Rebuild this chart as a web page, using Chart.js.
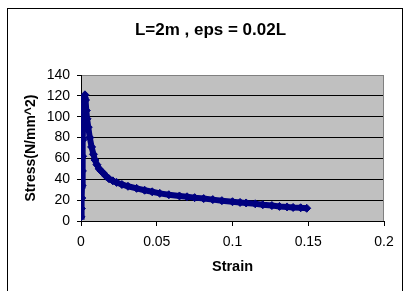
<!DOCTYPE html>
<html>
<head>
<meta charset="utf-8">
<script src="https://cdn.jsdelivr.net/npm/chart.js@4"></script>
<style>
    html, body { margin: 0; padding: 0; background: #fff; overflow: hidden; }
    #chartBox { position: relative; width: 407px; height: 291px; }
    #frame { position: absolute; left: 7px; top: 8px; width: 394px; height: 300px; border: 1px solid #000; pointer-events: none; }
</style>
</head>
<body>
<div id="chartBox">
    <canvas id="stressStrain"></canvas>
    <div id="frame"></div>
</div>
<script>
// values
const strain = [0, 0.0003, 0.0005, 0.0007, 0.0009, 0.0011, 0.0013, 0.0015, 0.0018, 0.0022,
    0.0026, 0.003, 0.0035, 0.004, 0.0048, 0.0058, 0.007, 0.0082, 0.0092, 0.0105,
    0.012, 0.0135, 0.0147, 0.0165, 0.0185, 0.021, 0.0235, 0.027, 0.031, 0.0367,
    0.042, 0.047, 0.052, 0.058, 0.065, 0.07, 0.075, 0.081, 0.087, 0.093,
    0.1, 0.105, 0.109, 0.115, 0.12, 0.126, 0.131, 0.136, 0.14, 0.145, 0.149];
const stress = [4, 12, 22, 34, 48, 62, 78, 94, 108, 118,
    121, 116, 106, 98, 90, 80, 71, 64, 58.5, 54,
    50, 47.5, 46, 43, 40.5, 38.5, 37, 35, 33.3, 31.3,
    29.5, 28, 26.5, 25.2, 24, 23.2, 22.4, 21.5, 20.5, 19.5,
    18.5, 17.8, 17.3, 16.5, 15.6, 14.8, 14, 13.5, 13, 12.7, 12.2];
const xTicks = [0, 0.05, 0.1, 0.15, 0.2];
const yTicks = [0, 20, 40, 60, 80, 100, 120, 140];

const FONT = "'Liberation Sans', Arial, sans-serif";
const NAVY = '#000080';

// grey plot area like the spreadsheet chart
const plotBackground = {
    id: 'plotBackground',
    beforeDraw(chart) {
        const { ctx, chartArea: a } = chart;
        ctx.save();
        ctx.fillStyle = '#C0C0C0';
        ctx.fillRect(a.left, a.top, a.right - a.left, a.bottom - a.top);
        ctx.restore();
    },
    beforeDatasetsDraw(chart) {
        const { ctx, chartArea: a } = chart;
        ctx.save();
        ctx.strokeStyle = '#808080';
        ctx.lineWidth = 1;
        ctx.beginPath();
        ctx.moveTo(Math.round(a.right) - 0.5, a.top);
        ctx.lineTo(Math.round(a.right) - 0.5, a.bottom);
        ctx.stroke();
        ctx.restore();
    }
};

function createChart() {
    const points = strain.map((s, i) => ({ x: s, y: stress[i] }));

    const config = {
        type: 'scatter',
        data: {
            datasets: [{
                label: 'Stress',
                data: points,
                showLine: true,
                borderColor: NAVY,
                backgroundColor: NAVY,
                borderWidth: 6,
                pointStyle: 'rectRot',
                pointRadius: 4,
                pointBorderWidth: 1
            }]
        },
        options: {
            responsive: true,
            maintainAspectRatio: false,
            animation: false,
            layout: { padding: { left: 14, right: 0, top: 0, bottom: 0 } },
            plugins: {
                legend: { display: false },
                tooltip: { enabled: false },
                title: {
                    display: true,
                    text: 'L=2m , eps = 0.02L',
                    color: '#000',
                    font: { size: 17, weight: 'bold', family: FONT },
                    padding: { top: 20.3, bottom: 34.3 }
                }
            },
            scales: {
                x: {
                    type: 'linear',
                    min: 0,
                    max: 0.2,
                    afterBuildTicks: scale => { scale.ticks = xTicks.map(v => ({ value: v })); },
                    afterFit: scale => { scale.height = 70; },
                    ticks: {
                        color: '#000',
                        padding: 7.5,
                        maxRotation: 0,
                        font: { size: 14, family: FONT },
                        callback: v => String(v)
                    },
                    grid: {
                        drawOnChartArea: false,
                        drawTicks: true,
                        tickLength: 5,
                        tickColor: '#000'
                    },
                    border: { color: '#000', width: 1 },
                    title: {
                        display: true,
                        text: 'Strain',
                        color: '#000',
                        font: { size: 14.5, weight: 'bold', family: FONT },
                        padding: { top: 0, bottom: 15.3 }
                    }
                },
                y: {
                    type: 'linear',
                    min: 0,
                    max: 140,
                    afterBuildTicks: scale => { scale.ticks = yTicks.map(v => ({ value: v })); },
                    afterFit: scale => { scale.width = 67; },
                    ticks: {
                        color: '#000',
                        padding: 7,
                        font: { size: 14, family: FONT },
                        callback: v => String(v)
                    },
                    grid: {
                        color: c => (c.tick && c.tick.value === 140 ? '#808080' : '#000'),
                        lineWidth: 1,
                        drawTicks: true,
                        tickLength: 4,
                        tickColor: '#000'
                    },
                    border: { color: '#000', width: 1 },
                    title: {
                        display: true,
                        text: 'Stress(N/mm^2)',
                        color: '#000',
                        font: { size: 14, weight: 'bold', family: FONT },
                        padding: { top: 8.6, bottom: 0 }
                    }
                },
                // empty right-hand axis only to keep the plot's right edge where the reference has it
                spacer: {
                    type: 'linear',
                    position: 'right',
                    display: true,
                    afterFit: scale => { scale.width = 23; },
                    ticks: { display: false },
                    grid: { display: false, drawTicks: false },
                    border: { display: false },
                    title: { display: false }
                }
            }
        },
        plugins: [plotBackground]
    };

    new Chart(document.getElementById('stressStrain'), config);
}

createChart();
</script>
</body>
</html>
